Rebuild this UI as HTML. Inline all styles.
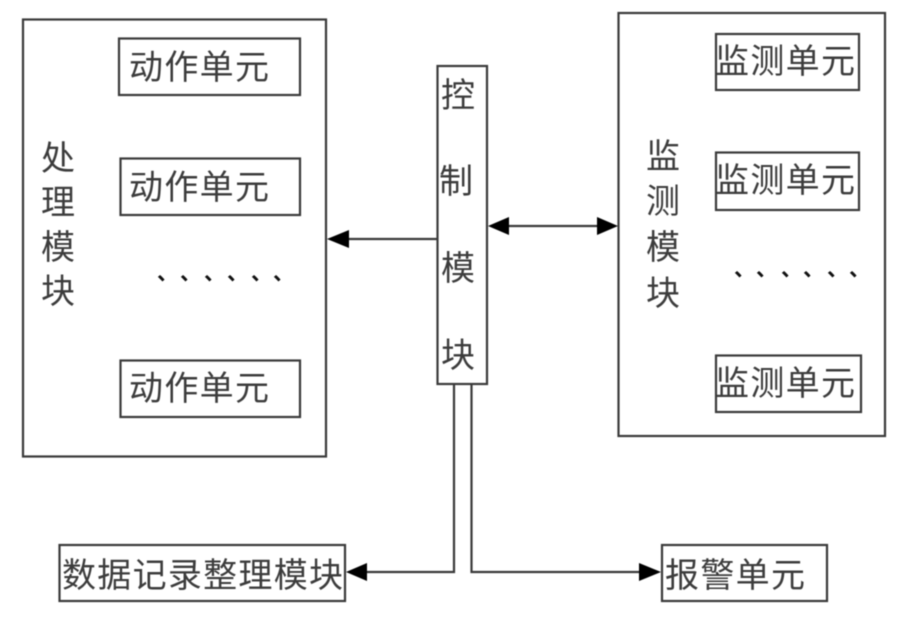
<!DOCTYPE html>
<html><head><meta charset="utf-8"><style>
html,body{margin:0;padding:0;background:#fff}
svg{display:block;filter:blur(.45px)}
text{font-family:"Liberation Sans","Noto Sans CJK SC",sans-serif;fill:#3c3c3c;font-size:34px}
.b{fill:none;stroke:#3a3a3a;stroke-width:2.2}
.a{fill:#000}
.d{font-size:21px;fill:#111;font-weight:700}
</style></head><body>
<svg width="901" height="618" viewBox="0 0 901 618" xmlns="http://www.w3.org/2000/svg">
<rect class="b" x="23" y="19.5" width="303" height="437"/>
<rect class="b" x="119" y="38.5" width="181" height="56.5"/>
<rect class="b" x="120.5" y="158.5" width="179.500" height="56.500"/>
<rect class="b" x="120.500" y="360.500" width="179.500" height="56.500"/>
<rect class="b" x="437.500" y="66" width="49.500" height="318"/>
<rect class="b" x="618.500" y="13" width="266.500" height="423"/>
<rect class="b" x="716" y="34" width="143" height="56"/>
<rect class="b" x="716" y="152.500" width="143" height="57.500"/>
<rect class="b" x="716" y="355.500" width="145" height="56.500"/>
<rect class="b" x="59.500" y="545" width="285.500" height="56"/>
<rect class="b" x="662" y="545" width="165" height="56"/>
<path class="b" d="M437 239H345"/>
<path class="a" d="M327 239L349 230V248Z"/>
<path class="b" d="M505 226H600"/>
<path class="a" d="M488 226L509 217V235Z"/>
<path class="a" d="M618 226L597 217V235Z"/>
<path class="b" d="M454 384V572H365"/>
<path class="a" d="M346 572L367 563V581Z"/>
<path class="b" d="M471.500 384V572H645"/>
<path class="a" d="M661 572L639 563V581Z"/>
<text x="129" y="79" textLength="140" lengthAdjust="spacing">动作单元</text>
<text x="129" y="199" textLength="140" lengthAdjust="spacing">动作单元</text>
<text x="129" y="400" textLength="140" lengthAdjust="spacing">动作单元</text>
<text x="715" y="73" textLength="140" lengthAdjust="spacing">监测单元</text>
<text x="715" y="192" textLength="140" lengthAdjust="spacing">监测单元</text>
<text x="715" y="395" textLength="140" lengthAdjust="spacing">监测单元</text>
<text x="62" y="587" textLength="281" lengthAdjust="spacing">数据记录整理模块</text>
<text x="665" y="587" textLength="140" lengthAdjust="spacing">报警单元</text>
<text x="41" y="170">处</text><text x="41" y="214">理</text><text x="41" y="259">模</text><text x="41" y="303">块</text>
<text x="646" y="168">监</text><text x="646" y="213">测</text><text x="646" y="259">模</text><text x="646" y="305">块</text>
<text x="441" y="107">控</text><text x="439" y="193">制</text><text x="441" y="280">模</text><text x="441" y="367">块</text>
<text class="d" x="157" y="280">、</text><text class="d" x="180" y="280">、</text><text class="d" x="204" y="280">、</text><text class="d" x="227" y="280">、</text><text class="d" x="251" y="280">、</text><text class="d" x="273" y="280">、</text>
<text class="d" x="734" y="276">、</text><text class="d" x="756" y="276">、</text><text class="d" x="781" y="276">、</text><text class="d" x="803" y="276">、</text><text class="d" x="827" y="276">、</text><text class="d" x="849" y="276">、</text>
</svg>
</body></html>
